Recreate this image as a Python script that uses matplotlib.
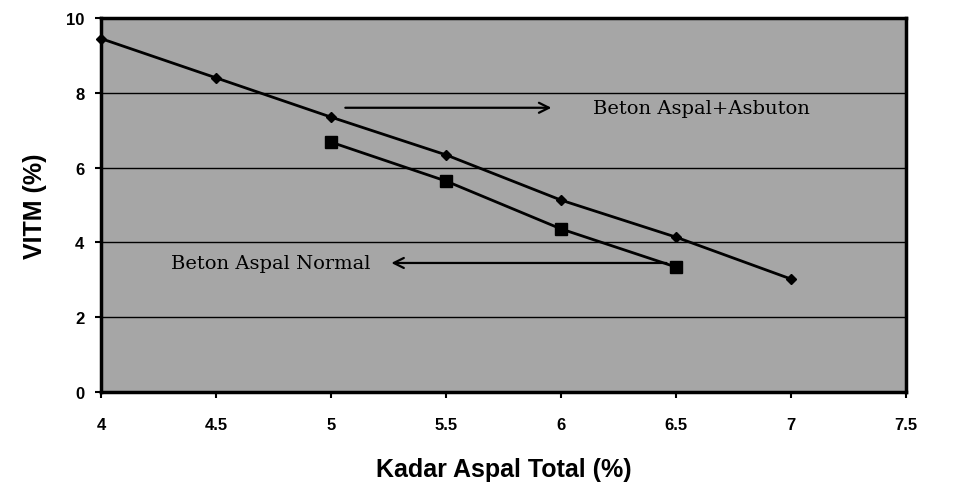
import matplotlib.pyplot as plt

# data
kadar_asbuton = [4, 4.5, 5, 5.5, 6, 6.5, 7]
vitm_asbuton = [9.45, 8.4, 7.35, 6.34, 5.13, 4.14, 3.02]
kadar_normal = [5, 5.5, 6, 6.5]
vitm_normal = [6.68, 5.64, 4.36, 3.34]

x_ticks = [4, 4.5, 5, 5.5, 6, 6.5, 7, 7.5]
x_labels = ['4', '4.5', '5', '5.5', '6', '6.5', '7', '7.5']
y_ticks = [0, 2, 4, 6, 8, 10]

fig = plt.figure(figsize=(9.55, 4.85), dpi=100)
ax = fig.add_axes([0.1058, 0.1897, 0.843, 0.7711])
ax.set_facecolor('#a6a6a6')

ax.plot(kadar_asbuton, vitm_asbuton, color='black', lw=2, marker='D', ms=5,
        zorder=3, clip_on=False)
ax.plot(kadar_normal, vitm_normal, color='black', lw=2, marker='s', ms=8, zorder=3)

# arrows + labels
ax.annotate('', xy=(5.97, 7.6), xytext=(5.05, 7.6),
            arrowprops=dict(arrowstyle='->', color='black', lw=1.6, mutation_scale=18))
ax.text(6.14, 7.6, 'Beton Aspal+Asbuton', family='DejaVu Serif',
        fontsize=14, va='center')
ax.annotate('', xy=(5.25, 3.45), xytext=(6.47, 3.45),
            arrowprops=dict(arrowstyle='->', color='black', lw=1.6, mutation_scale=18))
ax.text(5.17, 3.45, 'Beton Aspal Normal', family='DejaVu Serif',
        fontsize=14, va='center', ha='right')

ax.set_xlim(4, 7.5)
ax.set_ylim(0, 10)
ax.set_xticks(x_ticks)
ax.set_xticklabels(x_labels)
ax.set_yticks(y_ticks)
ax.yaxis.grid(True, color='black', lw=1)
ax.set_axisbelow(True)

for s in ax.spines.values():
    s.set_linewidth(2.5)
ax.tick_params(direction='out', length=4, width=1.5)
ax.tick_params(axis='x', pad=14)
ax.tick_params(axis='y', pad=8)
for lab in ax.get_xticklabels() + ax.get_yticklabels():
    lab.set_family('Liberation Sans')
    lab.set_fontweight('bold')
    lab.set_fontsize(12)

ax.set_xlabel('Kadar Aspal Total (%)', family='Liberation Sans',
              fontweight='bold', fontsize=18, labelpad=18)
ax.set_ylabel('VITM (%)', family='Liberation Sans',
              fontweight='bold', fontsize=18, labelpad=14)

fig.savefig('out.png', dpi=100)
